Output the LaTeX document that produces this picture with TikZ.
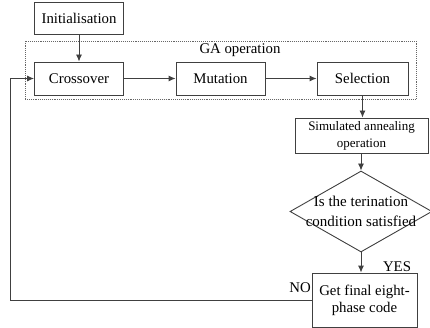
\documentclass[tikz,border=0pt]{standalone}
\usepackage{fontspec}
\setmainfont{Liberation Serif}
\usetikzlibrary{arrows.meta,shapes.geometric}
\begin{document}
\begin{tikzpicture}[x=1pt,y=-1pt,
  box/.style={draw=black!75, line width=0.9pt, rectangle, inner sep=0pt, align=center, font=\fontsize{14.8}{17}\selectfont},
  smallbox/.style={box, font=\fontsize{13}{17}\selectfont},
  arr/.style={draw=black!75, line width=0.9pt, -{Latex[length=7pt,width=6pt]}},
  lbl/.style={inner sep=0pt, font=\fontsize{14.8}{17}\selectfont}]
\useasboundingbox (0,0) rectangle (430,328);
\node[draw=black!60, densely dotted, line width=0.9pt, minimum width=391pt, minimum height=58pt, inner sep=0pt] (ga) at (220.5,70) {};
\node[lbl] (galabel) at (240,50) {GA operation};
\node[box, minimum width=89pt, minimum height=32pt] (init) at (79,18) {Initialisation};
\node[box, minimum width=89pt, minimum height=33pt] (cross) at (79,78.5) {Crossover};
\node[box, minimum width=89pt, minimum height=33pt] (mut) at (220.5,78.5) {Mutation};
\node[box, minimum width=91pt, minimum height=33pt] (sel) at (362.5,78.5) {Selection};
\node[smallbox, minimum width=133pt, minimum height=35pt] (sa) at (361.5,135.5) {Simulated annealing\\operation};
\node[diamond, draw=black!75, line width=0.9pt, minimum width=142pt, minimum height=81pt, inner sep=0pt] (dia) at (361,211.5) {};
\node[lbl, align=center, font=\fontsize{15}{20}\selectfont] (diatext) at (361,211) {Is the terination\\condition satisfied};
\node[box, minimum width=105pt, minimum height=54pt] (fin) at (364.5,300) {Get final eight-\\phase code};
\node[lbl] (yes) at (397,267) {YES};
\node[lbl] (no) at (300,288) {NO};
\coordinate (loopx) at (10,0);
\draw[arr] (init.south) -- (cross.north);
\draw[arr] (cross.east) -- (mut.west);
\draw[arr] (mut.east) -- (sel.west);
\draw[arr] (sel.south) -- (sel.south |- sa.north);
\draw[arr] (sa.south -| dia.north) -- (dia.north);
\draw[arr] (dia.south) -- (dia.south |- fin.north);
\draw[arr] (fin.west) -- (fin.west -| loopx) |- (cross.west);
\end{tikzpicture}
\end{document}
